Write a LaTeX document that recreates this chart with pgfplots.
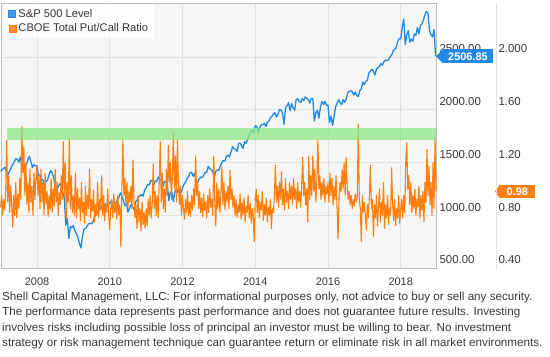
\documentclass[border=0pt]{standalone}
\usepackage{pgfplots}
\usepackage{pgfplotstable}
\pgfplotsset{compat=1.18}
\usepackage{fontspec}
\setmainfont{Liberation Sans}
\definecolor{spblue}{RGB}{33,137,229}
\definecolor{cboe}{RGB}{255,127,14}
\definecolor{bandc}{RGB}{140,232,130}
\definecolor{bgc}{RGB}{246,246,246}
\definecolor{gridc}{RGB}{226,226,226}
\definecolor{framec}{RGB}{190,190,190}
\definecolor{txt}{RGB}{55,55,55}

% S&P 500 level, two readings per month from Jan 2007 to Dec 2018
\pgfplotstableread[row sep=\\]{y\\
1418\\1430\\1445\\1456\\1400\\1387\\1421\\1452\\1482\\1505\\1536\\1532\\1503\\1552\\1455\\1411\\1474\\1476\\1527\\1559\\1509\\1451\\1481\\1467\\
1468\\1380\\1379\\1349\\1331\\1276\\1323\\1334\\1386\\1423\\1400\\1360\\1280\\1240\\1267\\1298\\1283\\1213\\1166\\907\\969\\780\\896\\880\\
903\\850\\826\\790\\735\\690\\798\\869\\873\\893\\919\\923\\919\\940\\987\\1004\\1021\\1068\\1057\\1092\\1036\\1109\\1096\\1102\\
1115\\1136\\1074\\1075\\1104\\1150\\1169\\1211\\1187\\1136\\1089\\1115\\1031\\1065\\1102\\1079\\1049\\1125\\1141\\1176\\1183\\1199\\1181\\1240\\
1258\\1293\\1286\\1330\\1327\\1281\\1326\\1320\\1364\\1338\\1345\\1268\\1321\\1316\\1292\\1140\\1219\\1216\\1131\\1225\\1253\\1218\\1247\\1212\\
1258\\1295\\1312\\1351\\1366\\1404\\1408\\1370\\1398\\1324\\1310\\1342\\1362\\1356\\1379\\1405\\1407\\1465\\1441\\1433\\1412\\1360\\1416\\1430\\
1426\\1472\\1498\\1520\\1515\\1560\\1569\\1552\\1598\\1650\\1631\\1626\\1606\\1680\\1686\\1661\\1633\\1697\\1682\\1721\\1757\\1791\\1806\\1781\\
1848\\1845\\1783\\1829\\1859\\1858\\1872\\1842\\1884\\1888\\1924\\1937\\1960\\1973\\1931\\1955\\2003\\1998\\1972\\1862\\2018\\2039\\2068\\1990\\
2059\\2019\\1995\\2096\\2105\\2081\\2068\\2106\\2086\\2122\\2107\\2096\\2063\\2108\\2104\\1893\\1972\\1996\\1920\\2023\\2079\\2050\\2080\\2043\\
2044\\1880\\1940\\1851\\1932\\2027\\2060\\2095\\2065\\2048\\2097\\2071\\2099\\2162\\2174\\2181\\2171\\2139\\2168\\2133\\2126\\2180\\2199\\2262\\
2239\\2270\\2279\\2349\\2364\\2385\\2363\\2329\\2384\\2400\\2412\\2437\\2423\\2459\\2470\\2465\\2472\\2500\\2519\\2557\\2575\\2585\\2648\\2675\\
2674\\2780\\2860\\2620\\2714\\2750\\2641\\2670\\2648\\2720\\2705\\2780\\2718\\2800\\2816\\2850\\2902\\2931\\2914\\2750\\2712\\2690\\2760\\2507\\
}\spdata

% CBOE total put/call ratio, three readings per month from Jan 2007 to Dec 2018
\pgfplotstableread[row sep=\\]{y\\
0.86\\0.95\\0.80\\0.92\\0.84\\0.98\\1.37\\0.90\\1.10\\0.82\\1.02\\0.88\\0.71\\0.95\\0.80\\1.05\\0.78\\0.96\\0.85\\1.08\\0.92\\1.47\\1.12\\1.32\\0.95\\1.20\\0.88\\1.05\\0.82\\1.15\\0.90\\1.02\\0.80\\1.12\\0.92\\1.08\\
1.18\\0.95\\1.10\\0.85\\1.15\\0.90\\1.05\\0.80\\1.12\\0.88\\0.98\\0.79\\0.95\\0.84\\1.08\\0.82\\1.00\\0.87\\1.15\\0.90\\1.05\\0.80\\0.97\\0.88\\1.10\\0.92\\1.36\\0.95\\1.20\\0.78\\1.05\\0.90\\1.39\\0.85\\1.10\\0.82\\
0.95\\0.80\\1.12\\0.78\\1.00\\0.85\\0.93\\0.76\\1.05\\0.82\\0.90\\0.74\\1.02\\0.80\\0.95\\0.85\\1.15\\0.78\\0.92\\0.83\\0.99\\0.75\\0.88\\0.80\\1.05\\0.78\\0.92\\0.84\\1.10\\0.80\\0.95\\0.76\\0.88\\0.82\\1.00\\0.79\\
0.69\\0.85\\0.92\\0.78\\0.96\\0.82\\0.90\\0.77\\0.95\\0.80\\0.88\\0.56\\1.00\\1.37\\0.95\\1.08\\0.88\\1.05\\0.86\\0.98\\0.90\\1.02\\0.85\\1.22\\0.92\\0.78\\0.88\\0.70\\0.95\\0.75\\0.85\\0.68\\0.90\\0.73\\0.82\\0.70\\
0.85\\0.72\\0.92\\0.80\\0.95\\0.78\\0.88\\1.19\\0.85\\0.98\\0.80\\0.95\\0.78\\1.05\\1.36\\0.90\\1.12\\0.85\\1.00\\0.82\\1.15\\0.95\\1.33\\1.05\\1.20\\0.92\\1.10\\1.43\\1.00\\1.25\\0.90\\1.37\\1.05\\0.88\\1.02\\0.80\\
0.95\\0.85\\0.77\\0.92\\0.82\\0.98\\0.80\\0.90\\0.79\\0.95\\0.84\\1.00\\0.88\\1.25\\0.95\\1.05\\0.85\\0.98\\0.82\\0.93\\0.79\\0.96\\0.84\\0.90\\0.78\\0.95\\0.82\\1.00\\0.86\\0.92\\0.80\\1.25\\0.90\\0.72\\1.05\\0.85\\
1.00\\0.82\\0.95\\1.17\\0.88\\1.05\\0.84\\0.98\\0.90\\1.02\\0.85\\1.14\\0.92\\1.00\\0.86\\0.95\\0.80\\0.92\\0.78\\0.88\\0.82\\0.96\\0.77\\0.90\\0.80\\0.93\\0.75\\0.87\\0.82\\0.95\\0.78\\0.89\\0.74\\0.85\\0.78\\0.60\\
0.92\\1.00\\0.82\\0.95\\0.78\\0.90\\0.84\\0.98\\0.76\\0.88\\0.80\\0.93\\0.75\\0.86\\0.80\\0.92\\0.70\\0.85\\0.82\\0.95\\1.18\\0.90\\1.02\\0.86\\1.05\\0.92\\1.13\\0.88\\1.00\\0.84\\1.08\\0.90\\0.98\\0.85\\1.05\\0.92\\
1.02\\0.88\\1.08\\0.92\\1.00\\0.85\\1.05\\0.90\\0.98\\0.86\\1.04\\1.24\\0.95\\1.05\\0.88\\1.00\\0.75\\1.25\\0.92\\1.10\\0.95\\1.25\\0.98\\1.15\\0.90\\1.05\\1.37\\1.00\\1.10\\0.92\\1.05\\0.95\\1.08\\0.90\\1.02\\0.96\\
1.05\\0.90\\1.12\\0.95\\1.08\\0.88\\1.02\\0.92\\1.10\\0.85\\0.62\\0.95\\1.05\\0.98\\1.15\\1.00\\1.20\\0.95\\1.24\\1.02\\0.92\\0.98\\0.88\\0.95\\0.85\\0.92\\0.87\\0.96\\0.90\\0.94\\1.49\\0.92\\0.85\\0.60\\0.95\\0.82\\
0.90\\0.80\\0.69\\0.88\\0.78\\0.95\\1.18\\0.85\\0.92\\0.64\\0.88\\0.78\\0.95\\0.72\\0.86\\1.00\\0.75\\0.90\\0.80\\1.05\\0.70\\0.88\\0.78\\0.95\\0.73\\0.85\\0.80\\1.16\\0.88\\0.76\\0.92\\0.72\\0.85\\0.78\\0.95\\0.74\\
0.85\\0.92\\0.78\\0.95\\0.82\\1.20\\1.35\\1.00\\1.10\\0.88\\1.05\\0.82\\0.95\\0.85\\1.00\\0.80\\0.92\\0.86\\1.02\\0.78\\0.95\\0.84\\0.98\\0.75\\1.05\\0.90\\1.30\\0.95\\1.17\\0.88\\1.05\\0.80\\1.20\\0.85\\1.39\\0.98\\
}\pcdata

\newcommand{\xtickfont}{\fontsize{11}{13}\selectfont}
\newcommand{\ytickfont}{\fontsize{11.5}{13}\selectfont}

\begin{document}
\begin{tikzpicture}[x=1bp,y=1bp]
\begin{axis}[
  scale only axis, width=435bp, height=265bp,
  xmin=2007.01, xmax=2018.97,
  ymin=500, ymax=3012,
  clip=false,
  axis background/.style={fill=bgc},
  axis line style={draw=framec},
  grid=major, major grid style={draw=gridc, line width=0.7bp},
  major tick length=0pt,
  xtick={2008,2010,2012,2014,2016,2018},
  xticklabels={2008,2010,2012,2014,2016,2018},
  x tick label style={font=\xtickfont, text=txt, yshift=-6bp},
  ytick={500,1000,1500,2000,2500},
  yticklabels={500.00,1000.00,1500.00,2000.00,2500.00},
  yticklabel pos=right,
  y tick label style={font=\ytickfont, text=txt, anchor=west, yshift=8bp},
  legend cell align=left,
  legend style={at={(rel axis cs:0,1)}, anchor=north west, xshift=3bp, yshift=-1bp,
    draw=none, fill=white, fill opacity=0.85, text opacity=1,
    font=\fontsize{11.2}{13}\selectfont, text=txt, row sep=1bp, inner xsep=4bp, inner ysep=3bp},
  legend image code/.code={\fill[#1] (0bp,-3.5bp) rectangle (7bp,3.5bp);},
]
\addplot[color=spblue, line width=1.3bp, line join=round] table[x expr=2007+\coordindex/24, y=y] {\spdata};
\addlegendentry{S\&P 500 Level}
\addlegendimage{color=cboe}
\addlegendentry{CBOE Total Put/Call Ratio}
\coordinate (TL) at (rel axis cs:0,1);
\node[fill=spblue, text=white, font=\fontsize{11}{12}\selectfont\bfseries, inner xsep=5bp, inner ysep=3bp, anchor=west]
  (tagA) at ([xshift=7bp]axis cs:2018.97,2506.85) {2506.85};
\fill[spblue] (tagA.north west) -- ([xshift=-7bp]tagA.west) -- (tagA.south west) -- cycle;
\end{axis}
\begin{axis}[
  scale only axis, width=435bp, height=265bp,
  xmin=2007.01, xmax=2018.97,
  ymin=0.4, ymax=2.4096,
  clip=false,
  axis x line=none,
  axis y line*=right,
  axis line style={draw=none},
  major tick length=0pt,
  ytick={0.4,0.8,1.2,1.6,2.0},
  yticklabels={0.40,0.80,1.20,1.60,2.000},
  y tick label style={font=\ytickfont, text=txt, anchor=west, xshift=59bp, yshift=8bp},
]
\addplot[color=cboe, line width=1.1bp, line join=round] table[x expr=2007+\coordindex/36, y=y] {\pcdata};
\addplot[draw=none, fill=bandc, fill opacity=0.75] coordinates {(2007.17,1.37) (2018.97,1.37) (2018.97,1.462) (2007.17,1.462)} -- cycle;
\node[fill=cboe, text=white, font=\fontsize{11}{12}\selectfont\bfseries, inner xsep=6.5bp, inner ysep=3bp, anchor=west]
  (tagB) at ([xshift=64bp]axis cs:2018.97,0.98) {0.98};
\fill[cboe] (tagB.north west) -- ([xshift=-5bp]tagB.west) -- (tagB.south west) -- cycle;
\end{axis}
\draw[gridc, line width=0.7bp] ([xshift=495bp]TL) -- ([xshift=495bp,yshift=-267bp]TL);
\node[anchor=north west, align=left, inner sep=0pt, text=txt, font=\fontsize{11.7}{15.4}\selectfont] at ([xshift=1bp,yshift=-289bp]TL)
{Shell Capital Management, LLC: For informational purposes only, not advice to buy or sell any security.\\
The performance data represents past performance and does not guarantee future results. Investing\\
involves risks including possible loss of principal an investor must be willing to bear. No investment\\
strategy or risk management technique can guarantee return or eliminate risk in all market environments.};
\pgfresetboundingbox
\path[use as bounding box] ([xshift=-1bp,yshift=3bp]TL) rectangle ++(550bp,-357bp);
\end{tikzpicture}
\end{document}
